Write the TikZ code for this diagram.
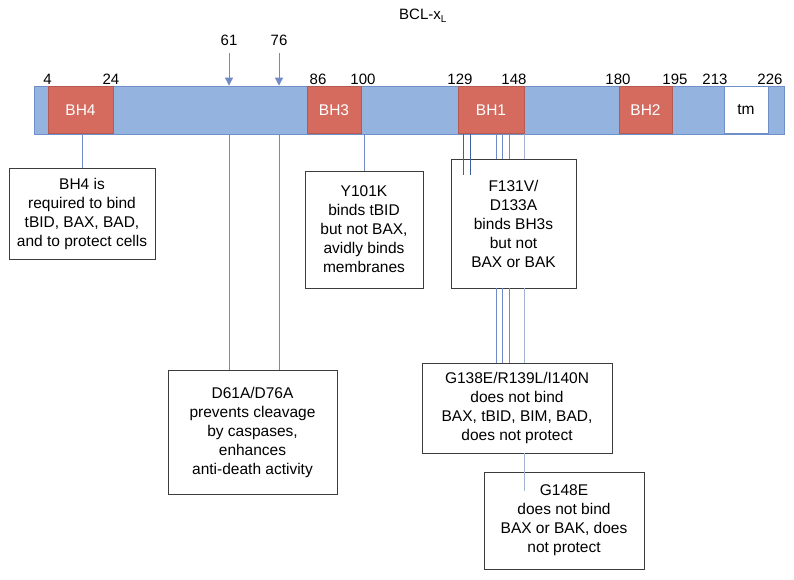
\documentclass[tikz,border=0pt]{standalone}
\usepackage{fontspec}
\setmainfont{Liberation Sans}
\usetikzlibrary{arrows.meta}
\definecolor{barblue}{HTML}{95B3DF}
\definecolor{barline}{HTML}{6E8FC8}
\definecolor{bhred}{HTML}{D56A5E}
\definecolor{lineblue}{HTML}{6F8AC4}
\definecolor{linedark}{HTML}{3F5FA0}
\definecolor{linelight}{HTML}{A4B2D4}
\definecolor{boxgray}{HTML}{3C3C3C}
\tikzset{
  txt/.style={font=\fontsize{15}{19}\selectfont, text=black},
  boxtxt/.style={font=\fontsize{15.5}{19}\selectfont, text=black},
  barbox/.style={draw=barline, fill=barblue, line width=0.8pt, inner sep=0pt,
    minimum width=750pt, minimum height=48pt},
  bhblock/.style={fill=bhred, draw=bhred!85!black, line width=0.4pt, inner sep=0pt,
    minimum height=47pt, text=white, font=\fontsize{15.5}{19}\selectfont},
  tmbox/.style={fill=white, draw=barline, line width=0.6pt, inner sep=0pt,
    minimum height=47pt, text=black, font=\fontsize{15.5}{19}\selectfont},
  numlbl/.style={txt, inner sep=0pt},
  notebox/.style={draw=boxgray, line width=0.8pt, fill=white, boxtxt, align=center, inner sep=0pt},
  conn/.style={draw=lineblue, line width=0.8pt},
  conndark/.style={draw=linedark, line width=0.8pt},
  connlight/.style={draw=linelight, line width=1pt},
  cutarrow/.style={draw=lineblue, line width=0.9pt, -{Triangle[width=8pt,length=8pt]}},
}
\begin{document}
\begin{tikzpicture}[x=1pt,y=-1pt]
\useasboundingbox (0,0) rectangle (794,579);

% title
\node[txt, anchor=west, inner sep=0pt] (title) at (399,16) {BCL-x\raisebox{-3.5pt}{\fontsize{10}{10}\selectfont L}};

% bar and domains
\node[barbox] (bar) at (409,110) {};
\node[bhblock, minimum width=65pt] (bh4) at (80.5,110) {BH4};
\node[bhblock, minimum width=54pt] (bh3) at (334,110) {BH3};
\node[bhblock, minimum width=66pt] (bh1) at (491,110) {BH1};
\node[bhblock, minimum width=53pt] (bh2) at (645.5,110) {BH2};
\node[tmbox, minimum width=44pt] (tm) at (746,110) {tm};

% residue numbers
\node[numlbl] (n4) at (47.5,79) {4};
\node[numlbl] (n24) at (111,79) {24};
\node[numlbl] (n86) at (318,79) {86};
\node[numlbl] (n100) at (363,79) {100};
\node[numlbl] (n129) at (460,79) {129};
\node[numlbl] (n148) at (514,79) {148};
\node[numlbl] (n180) at (618,79) {180};
\node[numlbl] (n195) at (675,79) {195};
\node[numlbl] (n213) at (715,79) {213};
\node[numlbl] (n226) at (770,79) {226};
\node[numlbl] (n61) at (229,40) {61};
\node[numlbl] (n76) at (279,40) {76};

% cleavage arrows
\coordinate (a61) at (229,53);
\coordinate (a76) at (279,53);
\draw[cutarrow] (a61) -- (a61 |- bar.north);
\draw[cutarrow] (a76) -- (a76 |- bar.north);

% note boxes
\node[notebox, minimum width=146pt, minimum height=91pt] (bh4box) at (82,213.5)
  {BH4 is\\required to bind\\tBID, BAX, BAD,\\and to protect cells};
\node[notebox, minimum width=169pt, minimum height=124pt] (d61box) at (252.5,432)
  {D61A/D76A\\prevents cleavage\\by caspases,\\enhances\\anti-death activity};
\node[notebox, minimum width=118pt, minimum height=117pt] (y101box) at (364,229.5)
  {Y101K\\binds tBID\\but not BAX,\\avidly binds\\membranes};
\node[notebox, minimum width=125pt, minimum height=129pt] (f131box) at (513.5,223.5)
  {F131V/\\D133A\\binds BH3s\\but not\\BAX or BAK};
\node[notebox, minimum width=190pt, minimum height=90pt] (g138box) at (517,408)
  {G138E/R139L/I140N\\does not bind\\BAX, tBID, BIM, BAD,\\does not protect};
\node[notebox, minimum width=160pt, minimum height=97pt] (g148box) at (564,520.5)
  {G148E\\does not bind\\BAX or BAK, does\\not protect};

% connectors from the bar
\draw[conn] (bh4box.north |- bar.south) -- (bh4box.north);
\draw[conn] (y101box.north |- bar.south) -- (y101box.north);
\draw[conn] (a61 |- bar.south) -- (a61 |- d61box.north);
\draw[conn] (a76 |- bar.south) -- (a76 |- d61box.north);

% F131V / D133A
\coordinate (f131end) at (463,175);
\coordinate (d133end) at (470,175);
\draw[conndark] (f131end |- bar.south) -- (f131end);
\draw[conndark] (d133end |- bar.south) -- (d133end);

% G138E / R139L / I140N
\foreach \xx/\nm in {496/g, 502/r, 509/i}{
  \coordinate (m\nm) at (\xx,363);
  \draw[conn] (m\nm |- bar.south) -- (m\nm |- f131box.north);
  \draw[conn] (m\nm |- f131box.south) -- (m\nm |- g138box.north);
}

% G148E
\coordinate (g148end) at (524,491);
\draw[connlight] (g148end |- bar.south) -- (g148end |- f131box.north);
\draw[connlight] (g148end |- f131box.south) -- (g148end |- g138box.north);
\draw[connlight] (g148end |- g138box.south) -- (g148end);
\end{tikzpicture}
\end{document}
